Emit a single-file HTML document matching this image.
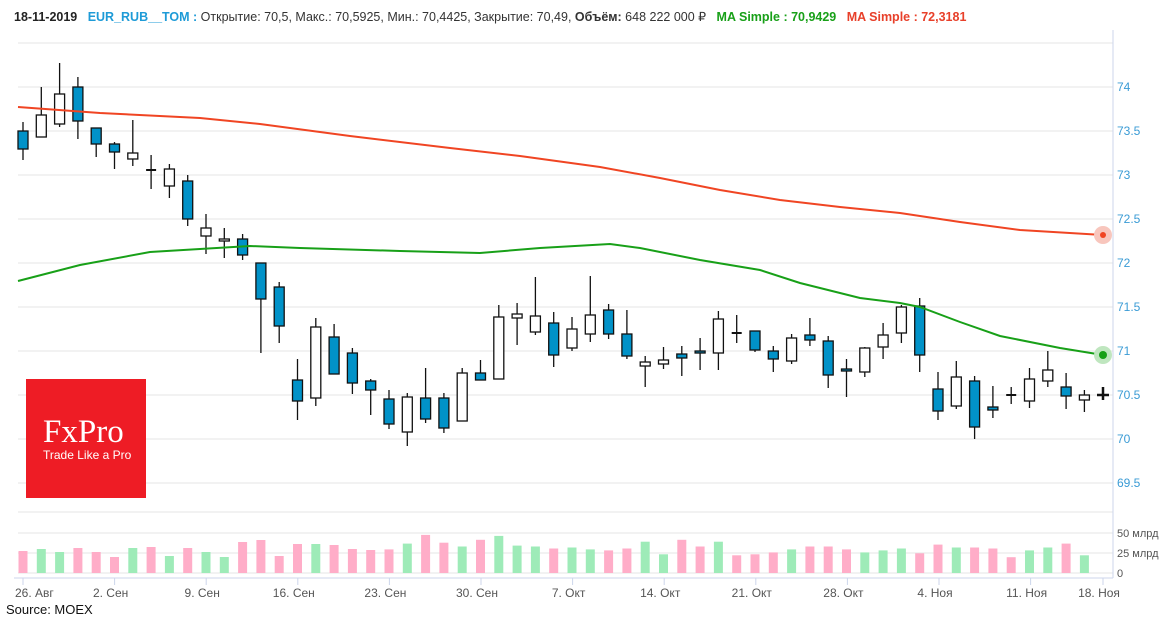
<!DOCTYPE html>
<html><head><meta charset="utf-8"><style>
body{margin:0;background:#fff;width:1170px;height:620px;overflow:hidden;font-family:"Liberation Sans",sans-serif}
#hdr{position:absolute;left:14px;top:9px;font-size:12.5px;color:#333;white-space:nowrap}
#hdr b{font-weight:bold}
svg{position:absolute;left:0;top:0}
</style></head><body>
<svg id="s" width="1170" height="620" xmlns="http://www.w3.org/2000/svg" font-family="Liberation Sans, sans-serif"></svg>
<div id="hdr"><b style="color:#222">18-11-2019</b>&nbsp;&nbsp; <b style="color:#1e9bd7">EUR_RUB__TOM :</b> Открытие: 70,5, Макс.: 70,5925, Мин.: 70,4425, Закрытие: 70,49, <b>Объём:</b> 648 222 000 ₽&nbsp;&nbsp; <b style="color:#18a018">MA Simple : 70,9429</b>&nbsp;&nbsp; <b style="color:#e8402a">MA Simple : 72,3181</b></div>
<script>
const s=document.getElementById('s');let h='';
// grid
for(let i=0;i<11;i++){const y=43+i*44;h+=`<line x1="18" x2="1113" y1="${y}" y2="${y}" stroke="#e6e6e6"/>`;}
const pl=['74','73.5','73','72.5','72','71.5','71','70.5','70','69.5'];
pl.forEach((t,i)=>{h+=`<text x="1117" y="${91+i*44}" font-size="12" fill="#3a9bd5">${t}</text>`});
[512,533,553,573].forEach(y=>h+=`<line x1="18" x2="1113" y1="${y}" y2="${y}" stroke="#e6e6e6"/>`);
h+=`<text x="1117" y="537" font-size="11" fill="#555">50 млрд</text><text x="1117" y="557" font-size="11" fill="#555">25 млрд</text><text x="1117" y="577" font-size="11" fill="#555">0</text>`;
h+=`<line x1="1113" x2="1113" y1="30" y2="578" stroke="#ccd6eb"/><line x1="14" x2="1113" y1="578" y2="578" stroke="#ccd6eb"/>`;
const lab=['26. Авг','2. Сен','9. Сен','16. Сен','23. Сен','30. Сен','7. Окт','14. Окт','21. Окт','28. Окт','4. Ноя','11. Ноя','18. Ноя'];
lab.forEach((t,i)=>{let x=23+i*91.6;if(i==12)x=1103;h+=`<line x1="${x}" x2="${x}" y1="578" y2="585" stroke="#ccd6eb"/><text x="${i==0?15:x-4}" y="597" font-size="12" fill="#555" ${i==0?'':'text-anchor="middle"'}>${t}</text>`});
h+=`<text x="6" y="614" font-size="13" fill="#111">Source: MOEX</text>`;
// volume
const vt=[551,549,552,548,552,557,548,547,556,548,552,557,542,540,556,544,544,545,549,550,549.4,543.6,534.9,542.7,546.5,539.8,535.9,545.6,546.5,548.5,547.5,549.4,550.4,548.5,541.7,554.3,539.8,546.5,541.7,555.3,554.3,552.4,549.4,546.5,546.5,549.4,552.4,550.4,548.5,553.3,544.6,547.5,547.5,548.5,557.2,550.4,547.5,543.6,555.3];
const vc='pggppppgpgpggppppgppppgppgpggpgggpppggppgpppppppgggppgpppgggpg';
const vcol=['p','g','g','p','p','p','g','p','g','p','g','g','p','p','p','p','g','p','p','p','p','g','p','p','g','p','g','g','g','p','g','g','p','p','g','g','p','p','g','p','p','p','g','p','p','p','g','g','g','p','p','g','p','p','p','g','g','p','g'];
vt.forEach((t,i)=>{const x=23+i*18.3;h+=`<rect x="${x-4.5}" y="${t}" width="9" height="${573-t}" fill="${vcol[i]=='g'?'#9eebb8':'#ffadc8'}"/>`});
// candles [x, wickTop, wickBot, bodyTop, bodyBot, blue]
const C=[[122,160,131,149,1],[87,137,115,137,0],[63,127,94,124,0],[77,139,87,121,1],[128,157,128,144,1],[142,169,144,152,1],[120,166,153,159,0],[155,189,170,171,2],[164,198,169,186,0],[175,226,181,219,1],[214,254,228,236,0],[228,258,239,241,0],[234,260,239,255,1],[263,353,263,299,1],[282,343,287,326,1],[359,420,380,401,1],[318,406,327,398,0],[324,374,337,374,1],[348,394,353,383,1],[379,415,381,390,1],[390,429,399,424,1],[393,446,397,432,0],[368,423,398,419,1],[393,433,398,428,1],[368,421,373,421,0],[360,380,373,380,1],[305,379,317,379,0],[303,345,314,318,0],[277,335,316,332,0],[312,367,323,355,1],[317,351,329,348,0],[276,342,315,334,0],[304,339,310,334,1],[310,359,334,356,1],[356,387,362,366,0],[347,369,360,364,0],[346,376,354,358,1],[338,370,351,353,1],[311,370,319,353,0],[315,343,333,333,2],[331,352,331,350,1],[346,372,351,359,1],[334,364,338,361,0],[318,346,335,340,1],[336,388,341,375,1],[359,397,369,371,1],[347,377,348,372,0],[323,359,335,347,0],[305,343,307,333,0],[298,372,306,355,1],[372,420,389,411,1],[361,409,377,406,0],[376,439,381,427,1],[386,418,407,410,1],[387,404,395,395,2],[368,408,379,401,0],[351,387,370,381,0],[373,409,387,396,1],[390,412,395,400,0]];
C.forEach((c,i)=>{const x=(23+i*18.3).toFixed(1);
h+=`<line x1="${x}" x2="${x}" y1="${c[0]}" y2="${c[1]}" stroke="#111" stroke-width="1.3"/>`;
if(c[4]==2){h+=`<line x1="${x-5}" x2="${+x+5}" y1="${c[2]}" y2="${c[2]}" stroke="#111" stroke-width="2"/>`}
else h+=`<rect x="${x-5}" y="${c[2]}" width="10" height="${Math.max(c[3]-c[2],2)}" fill="${c[4]?'#0192c8':'#fff'}" stroke="#111" stroke-width="1.3"/>`;});
h+=`<line x1="1103" x2="1103" y1="387" y2="400" stroke="#111" stroke-width="2.5"/><line x1="1097" x2="1109" y1="395" y2="395" stroke="#111" stroke-width="2.5"/>`;
// MAs
const g=[[18,281],[80,265],[150,252],[250,246],[300,248],[400,251],[480,253],[540,248],[610,244],[640,248],[700,260],[760,270],[800,283],[860,298],[900,303],[920,307],[960,322],[1000,336],[1060,348],[1103,355]];
const r=[[18,107],[100,113],[200,118],[260,124],[350,136],[450,148],[520,156],[600,167],[660,178],[720,190],[780,200],[840,207],[900,213],[960,222],[1020,230],[1103,235]];
h+=`<polyline points="${r.map(p=>p.join(',')).join(' ')}" fill="none" stroke="#f04523" stroke-width="2"/>`;
h+=`<polyline points="${g.map(p=>p.join(',')).join(' ')}" fill="none" stroke="#18a018" stroke-width="2"/>`;
h+=`<circle cx="1103" cy="235" r="9" fill="#f8c6bd"/><circle cx="1103" cy="235" r="3" fill="#f04523"/>`;
h+=`<circle cx="1103" cy="355" r="9" fill="#bfe6bf"/><circle cx="1103" cy="355" r="4" fill="#18a018"/>`;
// logo
h+=`<rect x="26" y="379" width="120" height="119" fill="#ee1c25"/><text x="43" y="442" font-family="Liberation Serif, serif" font-size="33" fill="#fff">FxPro</text><text x="43" y="459" font-size="12" fill="#fff">Trade Like a Pro</text>`;
s.innerHTML=h;
</script>
</body></html>
